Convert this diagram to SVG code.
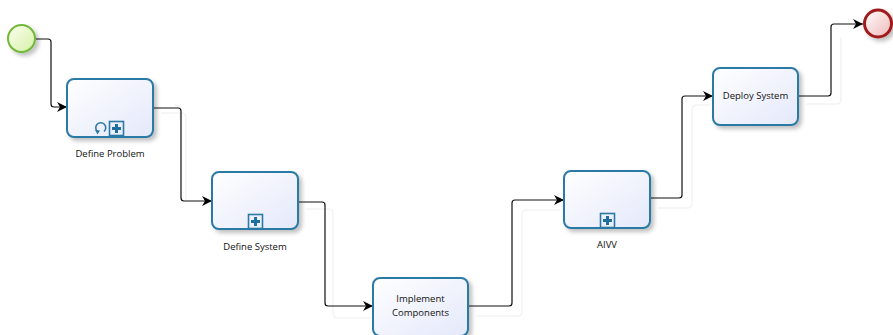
<svg xmlns="http://www.w3.org/2000/svg" width="893" height="335" viewBox="0 0 893 335">
<defs>
<linearGradient id="gTask" x1="0" y1="0" x2="1" y2="1">
<stop offset="0" stop-color="#ffffff"/>
<stop offset="1" stop-color="#e4e8fa"/>
</linearGradient>
<linearGradient id="gStart" x1="0" y1="0" x2="1" y2="1">
<stop offset="0" stop-color="#fbffef"/>
<stop offset="1" stop-color="#d6f0a8"/>
</linearGradient>
<linearGradient id="gEnd" x1="0" y1="0" x2="1" y2="1">
<stop offset="0" stop-color="#ffffff"/>
<stop offset="1" stop-color="#efb7b7"/>
</linearGradient>
<filter id="shadow" x="-20%" y="-20%" width="150%" height="150%">
<feGaussianBlur in="SourceAlpha" stdDeviation="2"/>
<feOffset dx="3" dy="3"/>
<feComponentTransfer><feFuncA type="linear" slope="0.25"/></feComponentTransfer>
<feMerge><feMergeNode/><feMergeNode in="SourceGraphic"/></feMerge>
</filter>
<marker id="arrow" markerWidth="12" markerHeight="10" refX="10" refY="5" orient="auto" markerUnits="userSpaceOnUse">
<path d="M0,0 L10,5 L0,10 L3,5 z" fill="#000"/>
</marker>
</defs>
<style>
.task{fill:url(#gTask);stroke:#2b7aa6;stroke-width:2}
.icon{fill:none;stroke:#2b7aa6;stroke-width:1.6}
.plus{fill:#1f6f9c}
.lbl{font-family:"Open Sans","Noto Sans","Liberation Sans",sans-serif;font-size:9.5px;fill:#111;text-anchor:middle}
.flow{fill:none;stroke:#111;stroke-width:1.2;marker-end:url(#arrow)}
.ghost{fill:none;stroke:#f3f3f3;stroke-width:1.5}
</style>

<g id="connectors">
<g id="ghosts">
<path class="ghost" d="M161,113 H181 Q186,113 186,118 V200"/>
<path class="ghost" d="M306,209 H328 Q333,209 333,214 V313 Q333,318 338,318 H370"/>
<path class="ghost" d="M476,316 H517 Q522,316 522,311 V215 Q522,210 527,210 H560"/>
<path class="ghost" d="M658,208 H687 Q692,208 692,203 V110 Q692,105 697,105 H710"/>
<path class="ghost" d="M806,104 H836 Q841,104 841,99 V37"/>
<path class="ghost" d="M175,105 Q180,105 180,110 V120"/>
</g>
<path class="flow" d="M36,39 H48 Q51,39 51,42 V104 Q51,107 54,107 H67"/>
<path class="flow" d="M153,108 H178 Q181,108 181,111 V198 Q181,201 184,201 H212"/>
<path class="flow" d="M298,202 H322 Q325,202 325,205 V303 Q325,306 328,306 H373"/>
<path class="flow" d="M468,306 H509 Q512,306 512,303 V203 Q512,200 515,200 H564"/>
<path class="flow" d="M650,198 H679 Q682,198 682,195 V99 Q682,96 685,96 H713"/>
<path class="flow" d="M798,96 H828 Q831,96 831,93 V27 Q831,24 834,24 H863"/>
</g>

<g id="start">
<circle cx="21.5" cy="38.5" r="13.5" fill="url(#gStart)" stroke="#72b83a" stroke-width="2" filter="url(#shadow)"/>
</g>

<g id="task-define-problem">
<rect class="task" x="67" y="79" width="86" height="58" rx="7" filter="url(#shadow)"/>
<path class="icon" d="M97.5,131.5 A5,5 0 1 1 104,131.5"/>
<path d="M95,130 L100,130.5 L97.5,134.5 z" fill="#2b7aa6"/>
<rect class="icon" x="109.5" y="121.5" width="14" height="14"/>
<path class="plus" d="M115,124 h3 v3 h3 v3 h-3 v3 h-3 v-3 h-3 v-3 h3 z"/>
<text class="lbl" x="110" y="157">Define Problem</text>
</g>

<g id="task-define-system">
<rect class="task" x="212" y="172" width="86" height="57" rx="7" filter="url(#shadow)"/>
<rect class="icon" x="248.5" y="214.5" width="14" height="14"/>
<path class="plus" d="M254,217 h3 v3 h3 v3 h-3 v3 h-3 v-3 h-3 v-3 h3 z"/>
<text class="lbl" x="255" y="250">Define System</text>
</g>

<g id="task-implement">
<rect class="task" x="373" y="278" width="95" height="58" rx="7" filter="url(#shadow)"/>
<text class="lbl" x="420.5" y="302">Implement</text>
<text class="lbl" x="420.5" y="316">Components</text>
</g>

<g id="task-aivv">
<rect class="task" x="564" y="171" width="86" height="57" rx="7" filter="url(#shadow)"/>
<rect class="icon" x="600.5" y="213.5" width="14" height="14"/>
<path class="plus" d="M606,216 h3 v3 h3 v3 h-3 v3 h-3 v-3 h-3 v-3 h3 z"/>
<text class="lbl" x="607" y="248">AIVV</text>
</g>

<g id="task-deploy">
<rect class="task" x="713" y="68" width="85" height="57" rx="7" filter="url(#shadow)"/>
<text class="lbl" x="755.5" y="99">Deploy System</text>
</g>

<g id="end">
<circle cx="878" cy="23.5" r="13.5" fill="url(#gEnd)" stroke="#a01c1c" stroke-width="3" filter="url(#shadow)"/>
</g>
</svg>
